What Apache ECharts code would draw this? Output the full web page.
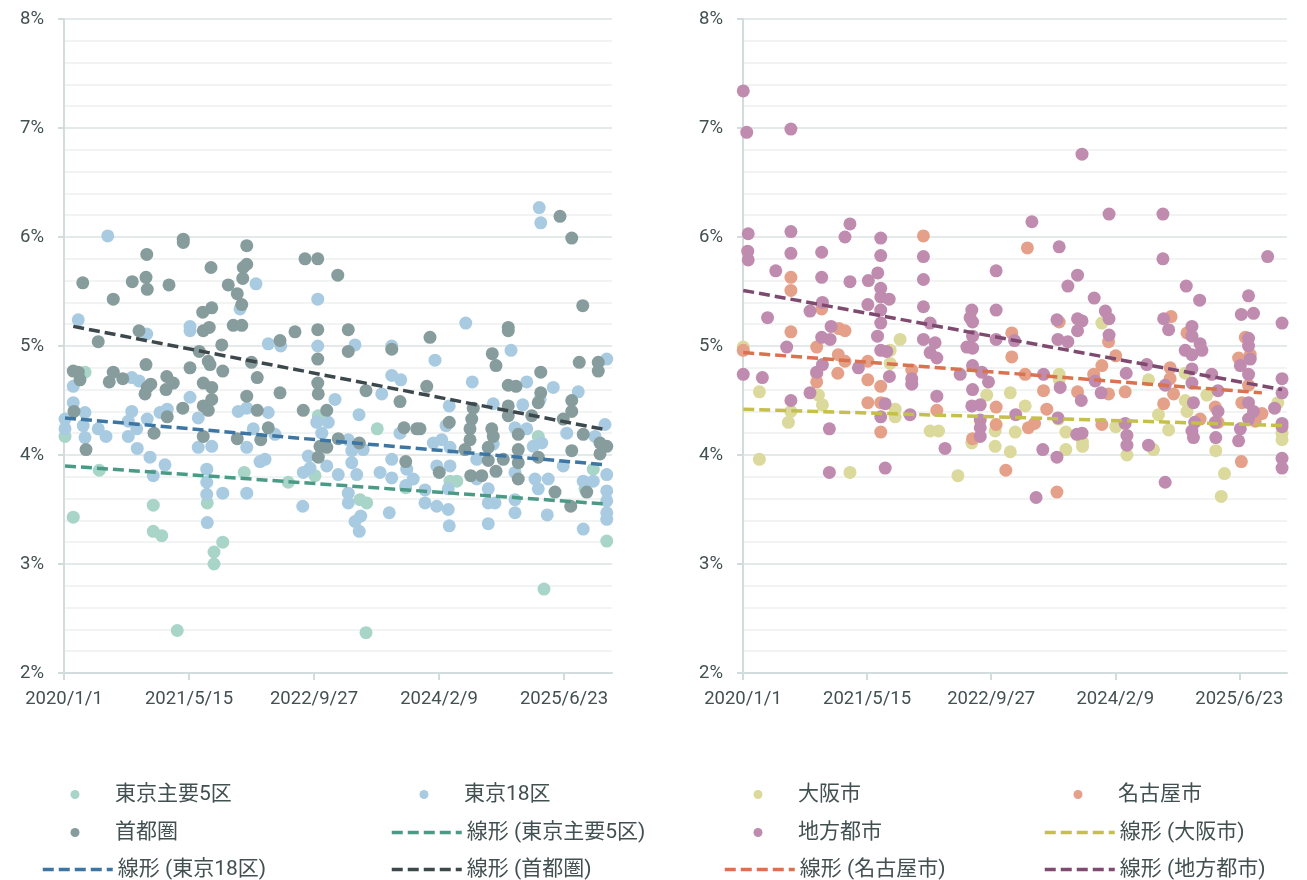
<!DOCTYPE html>
<html>
<head>
<meta charset="utf-8">
<script src="https://cdn.jsdelivr.net/npm/echarts@6/dist/echarts.min.js"></script>
<style>
  html, body { margin: 0; padding: 0; background: #fff; }
  #chart { width: 1307px; height: 880px; }
</style>
</head>
<body>
<div id="chart"></div>
<script>
// x values are days since 2020/1/1, y values are %
const xTicks = [0, 500, 1000, 1500, 2000];

// left chart
const tokyo5 = [[4,4.17],[84,4.76],[37,3.43],[141,3.86],[357,3.54],[357,3.30],[391,3.26],[573,3.56],[635,3.20],[600,3.11],[600,3.00],[453,2.39],[721,3.84],[897,3.75],[1004,3.81],[1017,4.36],[1184,3.59],[1211,3.56],[1253,4.24],[1208,2.37],[1367,3.70],[1897,4.17],[1544,3.76],[1571,3.76],[2117,3.87],[2084,3.69],[2171,3.21],[1920,2.77]];

const tokyo18 = [[175,6.01],[57,5.24],[37,4.63],[37,4.48],[4,4.33],[4,4.24],[84,4.39],[77,4.27],[84,4.16],[137,4.24],[168,4.17],[271,4.71],[300,4.68],[271,4.40],[257,4.31],[257,4.17],[291,4.24],[293,4.06],[331,5.11],[333,4.33],[344,3.98],[357,3.81],[404,3.91],[384,4.39],[413,4.42],[504,5.18],[504,5.14],[504,4.53],[537,4.34],[537,4.07],[591,4.08],[571,3.87],[571,3.75],[571,3.64],[635,3.65],[573,3.38],[704,5.34],[697,4.40],[731,4.43],[731,4.07],[731,3.65],
  [768,5.57],[817,5.02],[867,5.00],[1015,5.43],[1015,5.00],[1164,5.01],[1311,5.00],[1311,4.73],[1347,4.69],[1271,4.56],[1084,4.51],[1180,4.37],[817,4.39],[757,4.24],[844,4.19],[784,3.94],[804,3.96],[977,3.99],[984,3.88],[957,3.84],[1051,3.90],[1011,4.30],[1057,4.30],[1031,4.20],[1097,3.82],[1137,4.14],[1151,4.04],[1151,3.93],[1171,3.82],[1137,3.65],[1137,3.56],[1164,3.39],[1181,3.30],[1187,3.44],[955,3.53],[1197,4.05],[1264,3.84],[1311,3.79],[1311,3.96],[1301,3.47],[1344,4.20],[1371,3.87],[1397,3.78],[1367,3.72],[1444,3.68],[1444,3.56],
  [1901,6.27],[1907,6.13],[1607,5.21],[1484,4.87],[1788,4.96],[1633,4.67],[1851,4.67],[1957,4.62],[2057,4.58],[2171,4.88],[1717,4.47],[1835,4.46],[1541,4.45],[1528,4.27],[1904,4.51],[2164,4.28],[2124,4.17],[1477,4.11],[1511,4.14],[1544,4.07],[1491,3.90],[1544,3.90],[1651,3.96],[1651,3.78],[1717,4.10],[1724,3.56],[1804,4.25],[1851,4.24],[1877,4.08],[1911,4.11],[1804,3.84],[1804,3.59],[1804,3.47],[1884,3.78],[1897,3.69],[1937,3.78],[1933,3.45],[1697,3.69],[1697,3.56],[1697,3.37],[1491,3.53],[1537,3.69],[1537,3.50],[1541,3.35],[1997,3.90],[2077,3.76],[2117,3.76],[2077,3.32],[2171,3.82],[2171,3.67],[2171,3.58],[2171,3.47],[2171,3.41],[2011,4.20]];

const capital = [[75,5.58],[197,5.43],[137,5.04],[37,4.77],[57,4.76],[64,4.69],[40,4.40],[88,4.05],[181,4.67],[197,4.76],[235,4.70],[273,5.59],[331,5.84],[328,5.63],[333,5.52],[300,5.14],[328,4.83],[333,4.62],[324,4.56],[347,4.65],[360,4.20],[420,5.56],[411,4.72],[437,4.66],[408,4.60],[413,4.35],[477,5.98],[477,5.95],[475,4.43],[504,4.80],[555,5.31],[591,5.35],[557,5.14],[581,5.17],[588,5.72],[631,5.01],[541,4.95],[577,4.86],[584,4.83],[635,4.77],[557,4.66],[591,4.62],[591,4.51],[557,4.45],[577,4.41],[557,4.17],[657,5.56],[693,5.48],[711,5.38],[677,5.19],[711,5.19],[717,5.72],[715,5.62],[731,5.92],[750,4.85],[731,4.54],[693,4.15],
  [731,5.75],[773,4.71],[773,4.41],[817,4.25],[787,4.14],[864,5.05],[924,5.13],[864,4.57],[964,5.80],[1015,5.80],[1095,5.65],[1015,5.15],[1015,4.88],[1015,4.66],[1017,4.56],[957,4.41],[1051,4.41],[1024,4.08],[1017,3.98],[1051,4.07],[1097,4.15],[1137,5.15],[1137,4.95],[1181,4.11],[1208,4.59],[1311,4.97],[1344,4.49],[1360,4.25],[1411,4.24],[1367,3.94],[1451,4.63],[1464,5.08],
  [1984,6.19],[2031,5.99],[2075,5.37],[1777,5.17],[1777,5.14],[1713,4.93],[1728,4.82],[2061,4.85],[2137,4.85],[2137,4.77],[1777,4.64],[1808,4.63],[1907,4.76],[1907,4.57],[2031,4.50],[2031,4.40],[1541,4.30],[1424,4.24],[1637,4.43],[1631,4.33],[1624,4.24],[1624,4.14],[1604,4.05],[1711,4.24],[1717,4.17],[1697,4.07],[1697,3.95],[1627,3.81],[1671,3.81],[1728,3.85],[1777,4.45],[1777,4.36],[1817,4.19],[1817,4.05],[1817,3.93],[1817,3.78],[1757,3.96],[1871,4.36],[1897,4.48],[1897,3.98],[1964,3.66],[1997,4.33],[2031,4.04],[2027,3.53],[2077,4.19],[2091,3.66],[2144,4.11],[2171,4.08],[2144,4.01],[1501,3.84]];

// right chart
const osaka = [[1,4.99],[66,4.58],[66,3.96],[193,4.40],[183,4.30],[304,4.55],[320,4.46],[431,3.84],[593,4.96],[593,4.84],[633,5.06],[613,4.42],[613,4.35],
  [754,4.22],[788,4.22],[866,3.81],[922,4.11],[982,4.55],[1016,4.22],[1016,4.08],[1077,4.57],[1077,4.03],[1097,4.21],[1137,4.45],[1274,4.74],[1274,4.69],[1301,4.21],[1301,4.05],[1368,4.12],[1368,4.08],[1446,5.21],[1271,4.33],
  [1502,4.26],[1547,4.00],[1634,4.69],[1674,4.37],[1715,4.23],[1654,4.05],[1782,4.75],[1782,4.50],[1789,4.40],[1869,4.55],[1905,4.04],[1940,3.83],[1927,3.62],[2155,4.48],[2172,4.20],[2172,4.14]];

const nagoya = [[1,4.96],[193,5.63],[193,5.51],[193,5.13],[297,4.99],[317,5.34],[387,5.16],[411,5.14],[384,4.92],[411,4.86],[297,4.67],[297,4.75],[382,4.75],[503,4.86],[503,4.69],[555,4.63],[503,4.48],[555,4.48],[555,4.21],[680,4.78],[727,6.01],
  [781,4.41],[1020,4.44],[1020,4.28],[925,4.15],[1146,5.90],[1083,5.12],[1083,4.90],[1137,4.74],[1211,4.59],[1224,4.42],[1150,4.25],[1175,4.29],[1059,3.86],[1265,3.66],[1348,4.58],[1413,4.74],[1446,4.82],[1274,5.22],[1446,4.28],
  [1725,5.27],[1789,5.12],[1473,5.04],[1502,4.91],[1721,4.80],[1721,4.70],[1735,4.56],[1695,4.47],[1540,4.58],[1473,4.56],[1842,4.33],[1903,4.44],[1914,4.30],[2024,5.08],[1997,4.89],[2044,4.92],[2037,4.64],[2010,4.48],[2091,4.38],[2064,4.31],[2008,3.94]];

const chiho = [[1,7.34],[15,6.96],[193,6.99],[21,6.03],[19,5.87],[21,5.79],[193,6.05],[193,5.85],[132,5.69],[99,5.26],[1,4.74],[78,4.71],[176,4.99],[193,4.50],[317,5.86],[317,5.63],[270,5.32],[320,5.40],[355,5.18],[317,5.08],[351,5.06],[297,4.76],[320,4.83],[270,4.57],[348,4.24],[348,3.84],[431,6.12],[411,6.00],[431,5.59],[505,5.60],[543,5.67],[503,5.38],[555,5.99],[555,5.83],[555,5.53],[555,5.45],[589,5.43],[555,5.33],[555,5.21],[542,5.09],[555,4.96],[579,4.95],[465,4.80],[590,4.72],[573,4.47],[555,4.35],[573,3.88],[680,4.70],[680,4.65],[673,4.37],[727,5.82],[727,5.61],[727,5.36],[727,5.06],
  [1366,6.76],[1164,6.14],[1274,5.91],[1020,5.69],[1348,5.65],[1309,5.55],[1415,5.44],[1460,5.32],[1020,5.33],[754,5.21],[922,5.33],[915,5.26],[925,5.22],[774,5.03],[754,4.94],[781,4.89],[925,5.09],[902,4.99],[925,4.98],[925,4.82],[962,4.76],[989,4.67],[875,4.74],[1020,5.06],[1094,5.05],[1265,5.24],[1269,5.06],[1309,5.04],[1348,5.25],[1366,5.23],[1348,5.14],[1211,4.74],[1278,4.62],[781,4.54],[925,4.60],[922,4.45],[956,4.46],[1099,4.37],[956,4.32],[956,4.25],[956,4.17],[814,4.06],[1269,4.34],[1363,4.50],[1366,4.20],[1345,4.19],[1208,4.05],[1265,3.98],[1181,3.61],[1443,4.57],
  [1475,6.21],[1692,6.21],[1692,5.80],[2114,5.82],[1786,5.55],[1840,5.42],[2037,5.46],[2008,5.29],[2057,5.30],[1475,5.25],[1475,5.10],[2172,5.21],[1695,5.25],[1715,5.15],[1809,5.18],[1809,5.09],[1782,4.96],[1809,4.92],[1849,4.96],[1842,5.02],[2037,5.07],[2037,5.00],[2044,4.88],[2004,4.82],[2037,4.74],[1627,4.83],[1544,4.75],[1809,4.79],[1809,4.66],[1889,4.74],[1914,4.59],[1701,4.64],[1419,4.68],[2172,4.70],[2172,4.57],[2142,4.43],[2037,4.48],[2057,4.40],[2037,4.33],[1815,4.48],[1820,4.30],[1809,4.22],[1815,4.16],[1914,4.40],[1903,4.30],[1905,4.16],[2004,4.24],[1997,4.13],[2172,4.29],[2172,4.26],[1540,4.29],[1547,4.18],[1547,4.09],[1634,4.09],[2172,3.97],[2172,3.88],[1701,3.75]];

// linear trend endpoints
const trendTokyo5 = [[4,3.90],[2171,3.55]];
const trendTokyo18 = [[4,4.34],[2171,3.91]];
const trendCapital = [[37,5.18],[2171,4.23]];
const trendOsaka = [[1,4.42],[2172,4.27]];
const trendNagoya = [[1,4.94],[2091,4.57]];
const trendChiho = [[1,5.51],[2172,4.60]];

const FONT = 'Roboto, "Noto Sans CJK JP", sans-serif';
const TEXT = '#435051';
const AXIS = '#d2dcdc';

function dayLabel(d){
  let t = new Date(Date.UTC(2020, 0, 1) + d * 86400000);
  return t.getUTCFullYear() + '/' + (t.getUTCMonth() + 1) + '/' + t.getUTCDate();
}

function xAxis(idx){
  return {
    type: 'value', gridIndex: idx, min: 0, max: 2192,
    axisLine: { show: true, lineStyle: { color: AXIS, width: 2 } },
    axisTick: { show: true, customValues: xTicks, length: 7, lineStyle: { color: AXIS, width: 2 } },
    axisLabel: { customValues: xTicks, formatter: dayLabel, color: TEXT, fontSize: 18.5, fontFamily: FONT, margin: 17 },
    splitLine: { show: false }
  };
}
function yAxis(idx){
  return {
    type: 'value', gridIndex: idx, min: 2, max: 8, interval: 1,
    axisLine: { show: true, lineStyle: { color: AXIS, width: 2 } },
    axisTick: { show: true, length: 6, lineStyle: { color: AXIS, width: 2 } },
    axisLabel: { formatter: '{value}%', color: TEXT, fontSize: 18.5, fontFamily: FONT, margin: 20 },
    splitLine: { lineStyle: { color: '#e4e9e9', width: 2 } },
    minorTick: { show: false, splitNumber: 5 },
    minorSplitLine: { show: true, lineStyle: { color: '#f2f4f4', width: 2 } }
  };
}
function dots(name, data, color, idx){
  return { name: name, type: 'scatter', data: data, xAxisIndex: idx, yAxisIndex: idx,
    symbolSize: 13, itemStyle: { color: color, opacity: 1 } };
}
function trend(name, data, color, idx){
  return { name: name, type: 'line', data: data, xAxisIndex: idx, yAxisIndex: idx,
    symbol: 'none', lineStyle: { color: color, width: 3.5, type: [11, 5] }, itemStyle: { color: color } };
}
// one legend per entry so the two-column layout matches;
// dot entries are placed by the dot's own left edge
function leg(name, left, top, isLine){
  let l = { data: [{ name: name, icon: isLine ? undefined : 'circle' }], left: left, top: top, padding: 0,
    itemWidth: 70, itemHeight: 9, itemGap: 0, selectedMode: false,
    textStyle: { fontSize: 21, color: TEXT, fontFamily: FONT } };
  if (isLine) {
    l.itemStyle = { opacity: 0 };
    l.lineStyle = { width: 3.5, type: [11, 5] };
  }
  return l;
}

let chart = echarts.init(document.getElementById('chart'));
let option = {
  animation: false,
  backgroundColor: '#fff',
  grid: [
    { left: 64, right: 695, top: 19, bottom: 207 },
    { left: 743, right: 20, top: 19, bottom: 207 }
  ],
  xAxis: [xAxis(0), xAxis(1)],
  yAxis: [yAxis(0), yAxis(1)],
  legend: [
    leg('東京主要5区', 70.5, 784), leg('東京18区', 419.5, 784),
    leg('首都圏', 70.5, 822), leg('線形 (東京主要5区)', 390, 822, true),
    leg('線形 (東京18区)', 41, 859, true), leg('線形 (首都圏)', 390, 859, true),
    leg('大阪市', 753.5, 784), leg('名古屋市', 1073.5, 784),
    leg('地方都市', 753.5, 822), leg('線形 (大阪市)', 1043, 822, true),
    leg('線形 (名古屋市)', 723, 859, true), leg('線形 (地方都市)', 1043, 859, true)
  ],
  series: [
    dots('東京主要5区', tokyo5, '#a9d5c8', 0),
    dots('東京18区', tokyo18, '#a9cbe1', 0),
    dots('首都圏', capital, '#879c9c', 0),
    trend('線形 (東京主要5区)', trendTokyo5, '#4b9a86', 0),
    trend('線形 (東京18区)', trendTokyo18, '#3d76a3', 0),
    trend('線形 (首都圏)', trendCapital, '#3c484b', 0),
    dots('大阪市', osaka, '#dcd99c', 1),
    dots('名古屋市', nagoya, '#e5a089', 1),
    dots('地方都市', chiho, '#bf8bae', 1),
    trend('線形 (大阪市)', trendOsaka, '#c5bf4c', 1),
    trend('線形 (名古屋市)', trendNagoya, '#d9724f', 1),
    trend('線形 (地方都市)', trendChiho, '#7e4a6f', 1)
  ]
};
chart.setOption(option);
</script>
</body>
</html>
